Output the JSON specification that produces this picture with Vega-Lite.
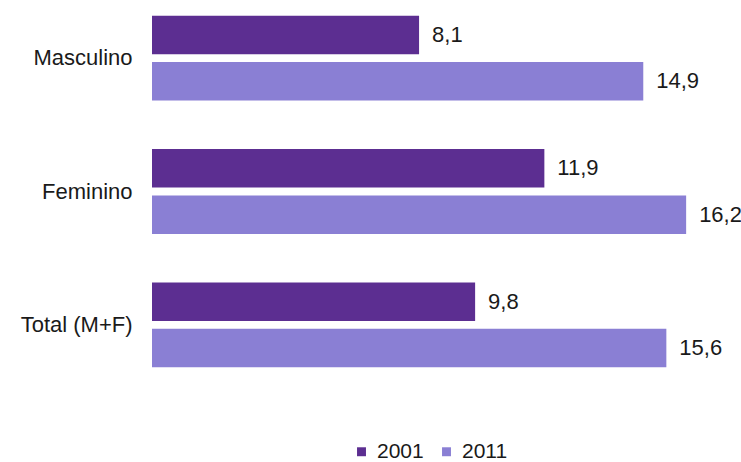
{
  "$schema": "https://vega.github.io/schema/vega-lite/v6.json",
  "autosize": "none",
  "width": 577,
  "height": 365,
  "padding": {"left": 152, "top": 9, "right": 12, "bottom": 88},
  "background": "white",
  "config": {
    "view": {"stroke": null},
    "font": "Liberation Sans"
  },
  "data": {
    "values": [
      {"grupo": "Masculino", "ano": "2001", "valor": 8.1, "label": "8,1"},
      {"grupo": "Masculino", "ano": "2011", "valor": 14.9, "label": "14,9"},
      {"grupo": "Feminino", "ano": "2001", "valor": 11.9, "label": "11,9"},
      {"grupo": "Feminino", "ano": "2011", "valor": 16.2, "label": "16,2"},
      {"grupo": "Total (M+F)", "ano": "2001", "valor": 9.8, "label": "9,8"},
      {"grupo": "Total (M+F)", "ano": "2011", "valor": 15.6, "label": "15,6"}
    ]
  },
  "encoding": {
    "y": {
      "field": "grupo", "type": "nominal", "sort": null, "title": null,
      "scale": {"paddingInner": 0.363, "paddingOuter": 0.05},
      "axis": {"domain": false, "ticks": false, "labelFontSize": 22, "labelColor": "#1a1a1a", "labelPadding": 20, "labelFont": "Liberation Sans"}
    },
    "yOffset": {
      "field": "ano", "type": "nominal",
      "scale": {"paddingInner": 0.17, "paddingOuter": 0}
    },
    "x": {
      "field": "valor", "type": "quantitative",
      "scale": {"domain": [0, 17.5], "nice": false},
      "axis": null
    }
  },
  "layer": [
    {
      "mark": {"type": "bar"},
      "encoding": {
        "color": {
          "field": "ano", "type": "nominal", "title": null,
          "scale": {"domain": ["2001", "2011"], "range": ["#5c2e91", "#8a7fd4"]},
          "legend": {
            "orient": "none", "direction": "horizontal",
            "legendX": 199, "legendY": 432,
            "symbolType": "square", "symbolSize": 80,
            "labelFontSize": 21, "labelColor": "#1a1a1a",
            "labelFont": "Liberation Sans",
            "columnPadding": 12, "labelOffset": 5
          }
        }
      }
    },
    {
      "mark": {"type": "text", "align": "left", "dx": 13, "fontSize": 22, "color": "#1a1a1a", "font": "Liberation Sans"},
      "encoding": {
        "text": {"field": "label"}
      }
    }
  ]
}
